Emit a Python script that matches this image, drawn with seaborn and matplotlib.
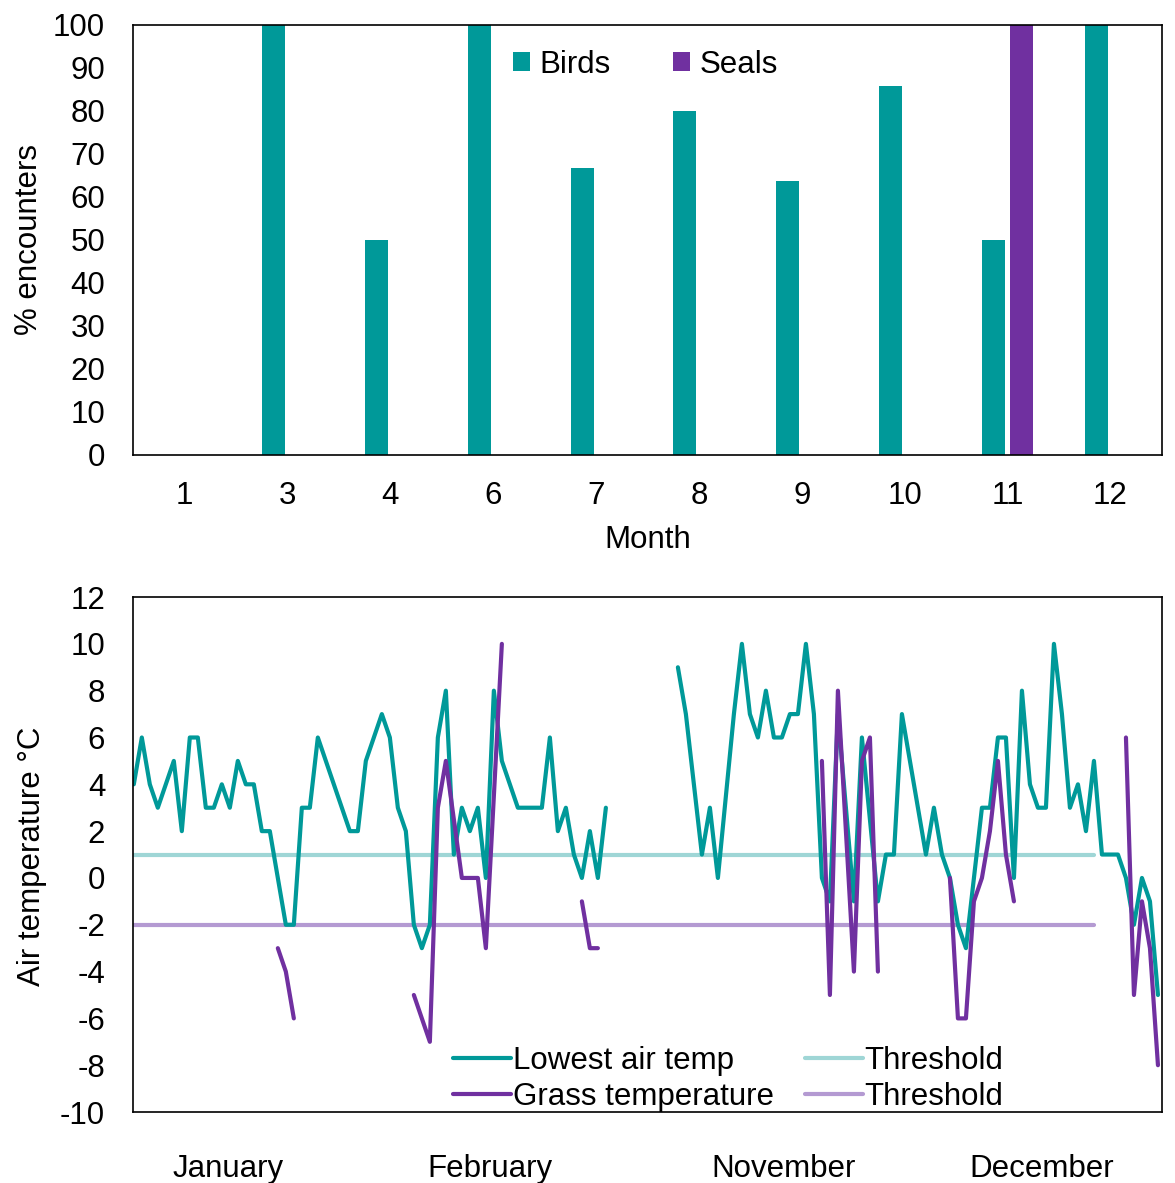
import numpy as np
import pandas as pd
import matplotlib
matplotlib.use("Agg")
import matplotlib.pyplot as plt
from matplotlib.lines import Line2D
from matplotlib.patches import Patch
import seaborn as sns

nan = np.nan

# ---------------- data: top chart ----------------
months = ["1", "3", "4", "6", "7", "8", "9", "10", "11", "12"]
birds = [0, 100, 50, 100, 66.7, 80, 63.6, 85.7, 50, 100]
seals = [0, 0, 0, 0, 0, 0, 0, 0, 100, 0]

# ---------------- data: bottom chart (daily values) ----------------
lowest_air = [
    4, 6, 4, 3, 4, 5, 2, 6, 6, 3, 3, 4, 3, 5, 4, 4, 2, 2, 0, -2, -2,
    3, 3, 6, 5, 4, 3, 2, 2, 5, 6, 7, 6, 3, 2, -2, -3, -2, 6, 8, 1, 3, 2, 3, 0,
    8, 5, 4, 3, 3, 3, 3, 6, 2, 3, 1, 0, 2, 0, 3,
    nan, nan, nan, nan, nan, nan, nan, nan,
    9, 7, 4, 1, 3, 0, 3.5, 7, 10, 7, 6, 8, 6, 6, 7, 7, 10, 7, 0, -1,
    7, 3, -1, 6, 2.5, -1, 1, 1,
    7, 5, 3, 1, 3, 1, 0, -2, -3, 0, 3, 3, 6, 6, 0, 8, 4, 3, 3, 10,
    7, 3, 4, 2, 5, 1, 1, 1, 0, -2, 0, -1, -5,
]
grass = [
    nan, nan, nan, nan, nan, nan, nan, nan, nan, nan, nan, nan, nan, nan, nan, nan, nan, nan,
    -3, -4, -6,
    nan, nan, nan, nan, nan, nan, nan, nan, nan, nan, nan, nan, nan, nan,
    -5, -6, -7, 3, 5, 2.5, 0, 0, 0, -3, 3.5, 10,
    nan, nan, nan, nan, nan, nan, nan, nan, nan,
    -1, -3, -3,
    nan, nan, nan, nan, nan, nan, nan, nan, nan, nan, nan, nan, nan, nan,
    nan, nan, nan, nan, nan, nan, nan, nan, nan, nan, nan, nan, nan,
    5, -5, 8, 2, -4, 5, 6, -4,
    nan, nan, nan, nan, nan, nan, nan, nan,
    0, -6, -6, -1, 0, 2, 5, 1, -1,
    nan, nan, nan, nan, nan, nan, nan, nan, nan, nan, nan, nan, nan,
    6, -5, -1, -3, -8,
]
threshold_air = [1.0] * 121
threshold_grass = [-2.0] * 121

month_labels = ["January", "February", "November", "December"]
month_label_pos = [11.75, 44.5, 81.25, 113.5]

TEAL = "#009999"
PURPLE = "#7030A0"
TEAL_LIGHT = "#9fd6d6"
PURPLE_LIGHT = "#b49ad2"
LW = 3.0

# ---------------- style ----------------
sns.set_theme(style="white")
plt.rcParams["font.family"] = ["Liberation Sans", "DejaVu Sans"]
plt.rcParams["font.size"] = 22.5
plt.rcParams["axes.edgecolor"] = "black"
plt.rcParams["axes.linewidth"] = 1.2
plt.rcParams["axes.unicode_minus"] = False
plt.rcParams["text.color"] = "black"
plt.rcParams["axes.labelcolor"] = "black"

fig = plt.figure(figsize=(11.75, 11.83), dpi=100)
ax1 = fig.add_axes([0.1132, 0.6154, 0.8757, 0.3635])
ax2 = fig.add_axes([0.1132, 0.0600, 0.8757, 0.4353])

# ---------------- top: bar chart ----------------
df_bar = pd.DataFrame({
    "Month": months * 2,
    "value": birds + seals,
    "group": ["Birds"] * len(months) + ["Seals"] * len(months),
})
sns.barplot(data=df_bar, x="Month", y="value", hue="group", order=months,
            hue_order=["Birds", "Seals"], palette={"Birds": TEAL, "Seals": PURPLE},
            width=0.544, gap=0.18, saturation=1, linewidth=0, legend=False, ax=ax1)
ax1.set_xlim(-0.5, len(months) - 0.5)
ax1.set_ylim(0, 100)
ax1.set_yticks(range(0, 101, 10))
ax1.set_xlabel("Month", fontsize=22.5, color="black")
ax1.set_ylabel("% encounters", fontsize=22.5, color="black")
ax1.xaxis.set_label_coords(0.5, -0.163)
ax1.yaxis.set_label_coords(-0.0865, 0.5)
ax1.tick_params(axis="both", length=0, labelsize=22.5, colors="black")
ax1.tick_params(axis="x", pad=19)
ax1.tick_params(axis="y", pad=20)
for s in ax1.spines.values():
    s.set_visible(True)
    s.set_color("black")
    s.set_linewidth(1.2)
handles = [Patch(facecolor=TEAL, edgecolor="none"), Patch(facecolor=PURPLE, edgecolor="none")]
ax1.legend(handles, ["Birds", "Seals"], ncol=2, loc="upper left",
           bbox_to_anchor=(0.369, 0.942), frameon=False, borderpad=0,
           borderaxespad=0, handlelength=0.55, handleheight=0.55,
           handletextpad=0.3, columnspacing=2.0, fontsize=22.5)

# ---------------- bottom: line chart ----------------
def to_frame(values):
    df = pd.DataFrame({"x": np.arange(len(values)), "y": values})
    df["seg"] = df["y"].isna().cumsum()
    return df.dropna()

for vals, col in [(threshold_air, TEAL_LIGHT), (threshold_grass, PURPLE_LIGHT),
                  (lowest_air, TEAL), (grass, PURPLE)]:
    d = to_frame(vals)
    sns.lineplot(data=d, x="x", y="y", units="seg", estimator=None, color=col,
                 linewidth=LW, legend=False, ax=ax2)

ax2.set_xlim(-0.1, 128.5)
ax2.set_ylim(-10, 12)
ax2.set_yticks(range(-10, 13, 2))
ax2.set_xticks([])
ax2.set_xlabel("")
ax2.set_ylabel("Air temperature °C", fontsize=22.5, color="black")
ax2.yaxis.set_label_coords(-0.0836, 0.497)
ax2.tick_params(axis="both", length=0, labelsize=22.5, colors="black")
ax2.tick_params(axis="y", pad=20)
for s in ax2.spines.values():
    s.set_visible(True)
    s.set_color("black")
    s.set_linewidth(1.2)

trans = ax2.get_xaxis_transform()
for lab, pos in zip(month_labels, month_label_pos):
    ax2.text(pos, -0.111, lab, transform=trans, ha="center", va="center",
             fontsize=22.5, color="black")

leg_handles = [Line2D([], [], color=TEAL, lw=LW), Line2D([], [], color=PURPLE, lw=LW),
               Line2D([], [], color=TEAL_LIGHT, lw=LW), Line2D([], [], color=PURPLE_LIGHT, lw=LW)]
leg_labels = ["Lowest air temp", "Grass temperature", "Threshold", "Threshold"]
ax2.legend(leg_handles, leg_labels, ncol=2, loc="upper left",
           bbox_to_anchor=(0.311, 0.129), frameon=False, borderpad=0,
           borderaxespad=0, handlelength=1.85, handletextpad=0.06,
           columnspacing=1.0, labelspacing=0.2, fontsize=22.5)

fig.savefig("out.png", dpi=100)
